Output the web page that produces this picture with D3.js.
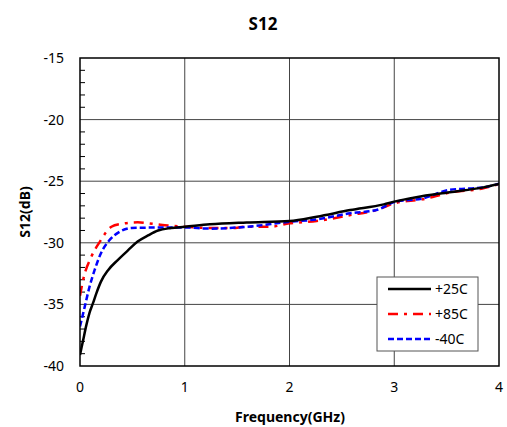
<!DOCTYPE html>
<html>
<head>
<meta charset="utf-8">
<script src="https://cdn.jsdelivr.net/npm/d3@7"></script>
<style>
  body { margin: 0; background: #fff; }
  text { font-family: "Noto Sans", "Open Sans", sans-serif; fill: #000; }
</style>
</head>
<body>
<div id="chart"></div>
<script>
// frequency (GHz) and S12 (dB)
const freq25 = [0, 0.03, 0.06, 0.09, 0.124, 0.156, 0.2, 0.27, 0.36, 0.46, 0.55, 0.65, 0.745, 0.87, 1.0, 1.24, 1.59, 2.0, 2.26, 2.58, 2.9, 3.0, 3.21, 3.53, 3.85, 4.0];
const s12_25 = [-39.1, -37.9, -36.7, -35.7, -34.9, -34.1, -33.15, -32.2, -31.4, -30.6, -29.9, -29.4, -29.0, -28.8, -28.7, -28.5, -28.35, -28.23, -27.88, -27.34, -26.88, -26.66, -26.3, -25.9, -25.5, -25.23];

const freq85 = [0, 0.03, 0.11, 0.19, 0.3, 0.39, 0.55, 0.71, 0.84, 1.0, 1.24, 1.46, 1.57, 1.81, 2.0, 2.26, 2.58, 2.83, 3.0, 3.27, 3.53, 3.85, 4.0];
const s12_85 = [-34.3, -33.0, -31.1, -29.9, -28.7, -28.47, -28.34, -28.47, -28.6, -28.7, -28.8, -28.8, -28.7, -28.7, -28.42, -28.23, -27.75, -27.34, -26.8, -26.47, -25.93, -25.58, -25.23];

const freqM40 = [0, 0.045, 0.09, 0.14, 0.2, 0.28, 0.38, 0.49, 0.62, 0.8, 1.0, 1.24, 1.59, 2.0, 2.26, 2.58, 2.83, 3.0, 3.27, 3.53, 3.85, 4.0];
const s12_M40 = [-36.8, -35.2, -33.6, -32.2, -30.85, -29.8, -29.1, -28.8, -28.77, -28.75, -28.75, -28.85, -28.7, -28.3, -28.1, -27.6, -27.34, -26.7, -26.4, -25.7, -25.5, -25.2];

const seriesNames = ["+25C", "+85C", "-40C"];
const xTicks = [0, 1, 2, 3, 4];
const yTicks = [-40, -35, -30, -25, -20, -15];

const width = 507, height = 427;
const margin = { top: 58, right: 8, bottom: 61, left: 80 };

const svg = d3.select("#chart").append("svg")
    .attr("width", width)
    .attr("height", height);

const x = d3.scaleLinear().domain([0, 4]).range([margin.left, width - margin.right]);
const y = d3.scaleLinear().domain([-40, -15]).range([height - margin.bottom, margin.top]);

// grid
svg.append("g")
    .selectAll("line")
    .data(xTicks.slice(1, -1))
    .enter().append("line")
        .attr("x1", d => x(d)).attr("x2", d => x(d))
        .attr("y1", y(-40)).attr("y2", y(-15))
        .attr("stroke", "#444").attr("stroke-width", 1);

svg.append("g")
    .selectAll("line")
    .data(yTicks.slice(1, -1))
    .enter().append("line")
        .attr("x1", x(0)).attr("x2", x(4))
        .attr("y1", d => y(d)).attr("y2", d => y(d))
        .attr("stroke", "#444").attr("stroke-width", 1);

// minor ticks on left axis, every 1 dB
const minor = d3.range(-39, -15).filter(v => v % 5 !== 0);
svg.append("g")
    .selectAll("line")
    .data(minor)
    .enter().append("line")
        .attr("x1", x(0)).attr("x2", x(0) + 5)
        .attr("y1", d => y(d)).attr("y2", d => y(d))
        .attr("stroke", "#000").attr("stroke-width", 1);

// tick labels
svg.append("g")
    .selectAll("text")
    .data(yTicks)
    .enter().append("text")
        .attr("x", x(0) - 16)
        .attr("y", d => y(d) + 5)
        .attr("text-anchor", "end")
        .style("font-size", "14px")
        .text(d => d);

svg.append("g")
    .selectAll("text")
    .data(xTicks)
    .enter().append("text")
        .attr("x", d => x(d))
        .attr("y", y(-40) + 26)
        .attr("text-anchor", "middle")
        .style("font-size", "14px")
        .text(d => d);

// series
const line = d3.line()
    .x(d => x(d[0]))
    .y(d => y(d[1]))
    .curve(d3.curveMonotoneX);

const series = [
    { name: seriesNames[0], data: d3.zip(freq25, s12_25), color: "#000", dash: null },
    { name: seriesNames[1], data: d3.zip(freq85, s12_85), color: "#ff0000", dash: "10,6,3,6" },
    { name: seriesNames[2], data: d3.zip(freqM40, s12_M40), color: "#0000ff", dash: "6,3" }
];

svg.append("clipPath").attr("id", "plotClip")
    .append("rect")
    .attr("x", x(0)).attr("y", y(-15))
    .attr("width", x(4) - x(0)).attr("height", y(-40) - y(-15));

const drawOrder = [series[1], series[2], series[0]];
svg.append("g").attr("clip-path", "url(#plotClip)")
    .selectAll("path")
    .data(drawOrder)
    .enter().append("path")
        .attr("d", d => line(d.data))
        .attr("fill", "none")
        .attr("stroke", d => d.color)
        .attr("stroke-width", 2.5)
        .attr("stroke-dasharray", d => d.dash);

// frame
svg.append("rect")
    .attr("x", x(0)).attr("y", y(-15))
    .attr("width", x(4) - x(0)).attr("height", y(-40) - y(-15))
    .attr("fill", "none").attr("stroke", "#000").attr("stroke-width", 1.5);

// legend
const legend = svg.append("g").attr("transform", "translate(377,277)");
legend.append("rect")
    .attr("width", 101).attr("height", 74)
    .attr("fill", "#fff").attr("stroke", "#555").attr("stroke-width", 1);

const legendRow = legend.selectAll("g")
    .data(series)
    .enter().append("g")
        .attr("transform", (d, i) => `translate(0, ${12 + i * 25})`);

legendRow.append("line")
    .attr("x1", 11).attr("x2", 54)
    .attr("y1", 0).attr("y2", 0)
    .attr("stroke", d => d.color)
    .attr("stroke-width", 2.5)
    .attr("stroke-dasharray", d => d.dash);

legendRow.append("text")
    .attr("x", 58).attr("y", 5)
    .style("font-size", "14px")
    .text(d => d.name);

// titles
svg.append("text")
    .attr("x", 263).attr("y", 30)
    .attr("text-anchor", "middle")
    .style("font-size", "17px").style("font-weight", "bold")
    .text("S12");

svg.append("text")
    .attr("x", 290).attr("y", 422)
    .attr("text-anchor", "middle")
    .style("font-size", "14px").style("font-weight", "bold")
    .text("Frequency(GHz)");

svg.append("text")
    .attr("transform", "translate(30, 212) rotate(-90)")
    .attr("text-anchor", "middle")
    .style("font-size", "14px").style("font-weight", "bold")
    .text("S12(dB)");
</script>
</body>
</html>
